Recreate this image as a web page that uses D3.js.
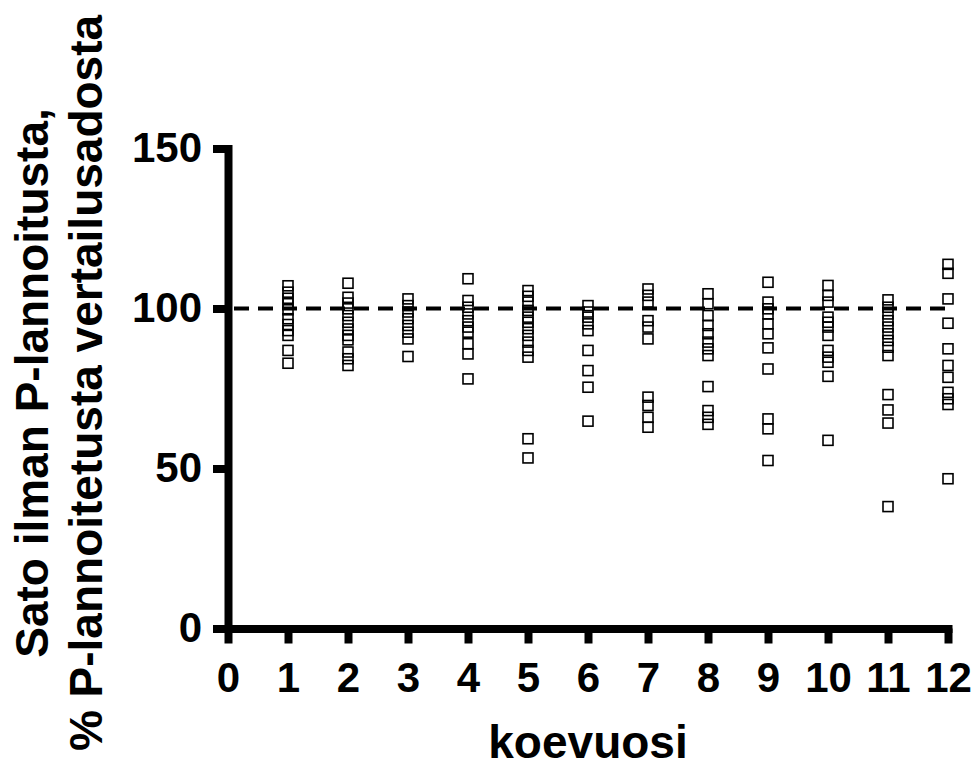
<!DOCTYPE html>
<html>
<head>
<meta charset="utf-8">
<title>Sato ilman P-lannoitusta</title>
<script src="https://d3js.org/d3.v7.min.js"></script>
<style>
	body { margin: 0; background: #fff; }
	svg { display: block; font-family: "Liberation Sans", Arial, sans-serif; }
</style>
</head>
<body>
<div id="chart"></div>
<script>

//Koevuodet (x) ja sadot (% vertailusadosta) per vuosi
var koevuodet = [1, 2, 3, 4, 5, 6, 7, 8, 9, 10, 11, 12];
var sato = [
	[107.1, 105.1, 103.2, 101.5, 99.6, 96.8, 95.0, 93.1, 91.6, 86.9, 82.9],
	[107.9, 103.5, 101.7, 99.9, 97.8, 95.7, 93.6, 91.6, 90.2, 86.4, 84.3, 82.2],
	[103.0, 100.9, 98.9, 96.8, 94.7, 92.6, 90.5, 85.0],
	[109.3, 102.5, 100.4, 98.3, 96.2, 94.2, 92.6, 89.0, 85.8, 78.0],
	[105.6, 103.8, 102.0, 99.4, 97.3, 95.7, 93.7, 91.6, 89.5, 86.9, 84.8, 59.3, 53.3],
	[100.9, 98.9, 97.3, 95.2, 93.1, 86.9, 80.6, 75.4, 64.8],
	[106.1, 104.1, 102.0, 96.2, 94.2, 90.5, 72.3, 69.7, 66.0, 62.9],
	[104.6, 101.5, 97.8, 94.7, 92.1, 89.5, 87.4, 85.3, 75.6, 68.1, 66.0, 63.8],
	[108.2, 102.0, 99.9, 98.3, 95.2, 92.1, 87.7, 81.1, 65.5, 62.4, 52.5],
	[107.2, 104.1, 102.0, 97.3, 95.7, 94.2, 91.6, 86.9, 84.8, 83.2, 78.8, 58.8],
	[102.7, 100.4, 98.3, 96.2, 94.2, 92.1, 90.0, 87.9, 85.3, 73.1, 68.3, 64.2, 38.1],
	[113.8, 111.0, 103.0, 95.4, 87.4, 82.2, 78.5, 73.8, 71.8, 70.0, 46.8]
];
var xTicks = [0, 1, 2, 3, 4, 5, 6, 7, 8, 9, 10, 11, 12];
var yTicks = [0, 50, 100, 150];
var vertailu = 100;

var width = 976, height = 763;

var svg = d3.select("#chart")
	.append("svg")
	.attr("width", width)
	.attr("height", height);

var x = d3.scaleLinear().domain([0, 12]).range([228, 948]);
var y = d3.scaleLinear().domain([0, 150]).range([628.5, 148.5]);

//Pisteet litteäksi listaksi
var points = [];
koevuodet.forEach(function(v, i) {
	sato[i].forEach(function(s) { points.push({x: v, y: s}); });
});

//Vertailutaso 100 %
svg.append("line")
	.attr("x1", x(0) + 6)
	.attr("x2", x(12))
	.attr("y1", y(vertailu))
	.attr("y2", y(vertailu))
	.attr("stroke", "#000")
	.attr("stroke-width", 4)
	.attr("stroke-dasharray", "15,9");

//Y-akseli
var yAxis = svg.append("g")
	.attr("transform", "translate(" + x(0) + ",0)")
	.call(d3.axisLeft(y).tickValues(yTicks).tickSize(15).tickSizeOuter(0).tickPadding(11));

//X-akseli
var xAxis = svg.append("g")
	.attr("transform", "translate(0," + y(0) + ")")
	.call(d3.axisBottom(x).tickValues(xTicks).tickSize(15).tickSizeOuter(0).tickPadding(19));

[yAxis, xAxis].forEach(function(a) {
	a.select(".domain").attr("stroke-width", 8).attr("stroke-linecap", "square");
	a.selectAll(".tick line").attr("stroke-width", 8);
	a.selectAll(".tick text")
		.attr("font-family", "Liberation Sans, Arial, sans-serif")
		.attr("font-size", 42)
		.attr("font-weight", "bold")
		.attr("fill", "#000");
});

//Pisteet
var s = 10;
svg.append("g")
	.selectAll("rect")
	.data(points)
	.enter()
	.append("rect")
	.attr("x", function(d) { return x(d.x) - s / 2; })
	.attr("y", function(d) { return y(d.y) - s / 2; })
	.attr("width", s)
	.attr("height", s)
	.attr("fill", "none")
	.attr("stroke", "#000")
	.attr("stroke-width", 1.6);

//Akselien otsikot
svg.append("text")
	.attr("x", x(6))
	.attr("y", 758)
	.attr("text-anchor", "middle")
	.attr("font-size", 46)
	.attr("font-weight", "bold")
	.text("koevuosi");

var yTitle = ["Sato ilman P-lannoitusta,", "% P-lannoitetusta vertailusadosta"];
svg.selectAll(".ytitle")
	.data(yTitle)
	.enter()
	.append("text")
	.attr("class", "ytitle")
	.attr("transform", function(d, i) { return "translate(" + (48 + i * 54) + ",383) rotate(-90)"; })
	.attr("text-anchor", "middle")
	.attr("font-size", 46)
	.attr("font-weight", "bold")
	.text(function(d) { return d; });

</script>
</body>
</html>
